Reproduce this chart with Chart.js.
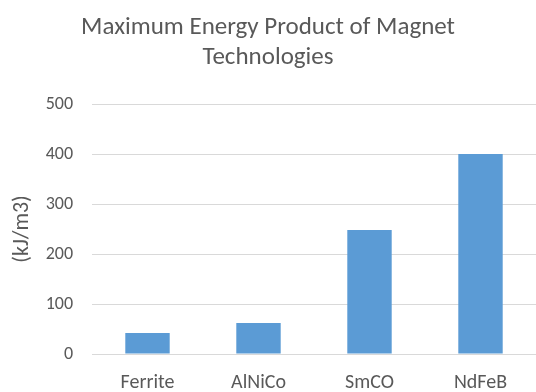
<!DOCTYPE html>
<html>
<head>
<meta charset="utf-8">
<script src="https://cdn.jsdelivr.net/npm/chart.js@4.4.0/dist/chart.umd.min.js"></script>
<style>
  html, body { margin: 0; padding: 0; background: #fff; }
  #wrap { width: 536px; height: 392px; }
</style>
</head>
<body>
<div id="wrap"><canvas id="c" width="536" height="392"></canvas></div>
<script>
// Magnet technologies and their maximum energy product (kJ/m3)
const categories = ["Ferrite", "AlNiCo", "SmCO", "NdFeB"];
const energyProduct = [42, 62, 248, 400];
const yTicks = [0, 100, 200, 300, 400, 500];

const textGray = "#595959";
const fontFamily = "Calibri, Carlito, Lato, 'Open Sans', sans-serif";

new Chart(document.getElementById("c"), {
  type: "bar",
  data: {
    labels: categories,
    datasets: [{
      data: energyProduct,
      backgroundColor: "#5B9BD5",
      borderWidth: 0,
      barPercentage: 0.4,
      categoryPercentage: 1.0
    }]
  },
  options: {
    responsive: false,
    animation: false,
    devicePixelRatio: 1,
    layout: { padding: { left: 0, right: 0, top: 0, bottom: 0 } },
    plugins: {
      legend: { display: false },
      tooltip: { enabled: false },
      title: {
        display: true,
        text: ["Maximum Energy Product of Magnet", "Technologies"],
        color: textGray,
        font: { family: fontFamily, size: 25, weight: "normal", lineHeight: 1.2 },
        padding: { top: 13, bottom: 31 }
      }
    },
    scales: {
      x: {
        grid: { display: false, drawTicks: false },
        border: { display: false },
        ticks: {
          color: textGray,
          font: { family: fontFamily, size: 20 },
          padding: 17
        },
        afterFit(scale) { scale.height = 38; }
      },
      y: {
        min: 0,
        max: 500,
        afterBuildTicks(scale) {
          scale.ticks = yTicks.map(v => ({ value: v }));
        },
        grid: { color: "#D9D9D9", lineWidth: 1, drawTicks: false },
        border: { display: false },
        ticks: {
          color: textGray,
          font: { family: fontFamily, size: 18 },
          padding: 19
        },
        title: {
          display: true,
          text: "(kJ/m3)",
          color: textGray,
          font: { family: fontFamily, size: 22 },
          padding: { top: 9, bottom: 0 }
        },
        afterFit(scale) { scale.width = 92; }
      }
    }
  }
});
</script>
</body>
</html>
